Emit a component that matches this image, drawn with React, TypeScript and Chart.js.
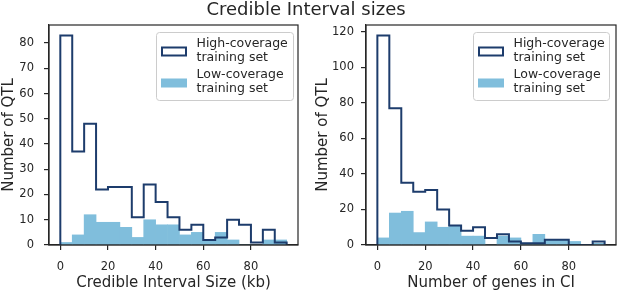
import React, { useEffect, useRef } from "react";
import { Chart, registerables } from "chart.js";

Chart.register(...registerables);

// ---- data ----
const binEdges = [0, 5, 10, 15, 20, 25, 30, 35, 40, 45, 50, 55, 60, 65, 70, 75, 80, 85, 90, 95];
const sizeHighCoverage = [83, 37, 48, 22, 23, 23, 11, 24, 17, 11, 6, 8, 2, 3, 10, 8, 1, 6, 1];
const sizeLowCoverage = [1, 4, 12, 9, 9, 7, 3, 10, 8, 8, 4, 5, 2, 5, 2, 0, 0, 2, 2];
const genesHighCoverage = [118, 77, 35, 30, 31, 20, 11, 8, 10, 4, 6, 2, 1, 1, 3, 3, 0, 0, 2];
const genesLowCoverage = [4, 18, 19, 7, 13, 10, 11, 5, 5, 0, 5, 4, 1, 6, 3, 3, 2, 0, 1];
const xTicks = [0, 20, 40, 60, 80];
const sizeYTicks = [0, 10, 20, 30, 40, 50, 60, 70, 80];
const genesYTicks = [0, 20, 40, 60, 80, 100, 120];
const highLabel = ["High-coverage", "training set"];
const lowLabel = ["Low-coverage", "training set"];
const figureTitle = "Credible Interval sizes";
const sizeXTitle = "Credible Interval Size (kb)";
const genesXTitle = "Number of genes in CI";
const yTitle = "Number of QTL";

// ---- styles ----
const FONT = "'DejaVu Sans', sans-serif";
const TEXT = "#262626";
const NAVY = "#1d3c6c";
const LIGHT = "#80bedc";

function stepPoints(counts: number[]) {
  const pts = [{ x: binEdges[0], y: 0 }];
  counts.forEach((c, i) => {
    pts.push({ x: binEdges[i], y: c });
    pts.push({ x: binEdges[i + 1], y: c });
  });
  pts.push({ x: binEdges[counts.length], y: 0 });
  return pts;
}

function barPoints(counts: number[]) {
  return counts.map((c, i) => ({ x: (binEdges[i] + binEdges[i + 1]) / 2, y: c }));
}

const frameLegendPlugin = {
  id: "frameLegend",
  afterDraw(chart: any, _args: any, opts: any) {
    const { ctx, chartArea } = chart;
    const { left, top, right, bottom } = chartArea;
    ctx.save();
    ctx.strokeStyle = TEXT;
    ctx.lineWidth = 1.2;
    ctx.strokeRect(left, top, right - left, bottom - top);

    const w = opts.boxWidth;
    const h = 68;
    const bx = Math.round(right - opts.inset - w) + 0.5;
    const by = Math.round(top + 7) + 0.5;
    ctx.beginPath();
    ctx.roundRect(bx, by, w, h, 3);
    ctx.fillStyle = "rgba(255,255,255,0.8)";
    ctx.fill();
    ctx.strokeStyle = "#cccccc";
    ctx.lineWidth = 1;
    ctx.stroke();

    ctx.strokeStyle = NAVY;
    ctx.lineWidth = 2;
    ctx.strokeRect(bx + 5.5, by + 15, 24, 8);
    ctx.fillStyle = LIGHT;
    ctx.fillRect(bx + 4.5, by + 46, 26, 9);

    ctx.fillStyle = TEXT;
    ctx.font = `12.5px ${FONT}`;
    ctx.textBaseline = "middle";
    ctx.textAlign = "left";
    const tx = bx + 40;
    ctx.fillText(highLabel[0], tx, by + 11);
    ctx.fillText(highLabel[1], tx, by + 25);
    ctx.fillText(lowLabel[0], tx, by + 42);
    ctx.fillText(lowLabel[1], tx, by + 56);
    ctx.restore();
  },
};

type HistProps = {
  high: number[];
  low: number[];
  yTicks: number[];
  xTitle: string;
  left: number;
  width: number;
  padRight: number;
  yWidth: number;
  yTitlePad: number;
  yTickPad: number;
  inset: number;
  boxWidth: number;
};

function Histogram(p: HistProps) {
  const ref = useRef<HTMLCanvasElement | null>(null);
  useEffect(() => {
    if (!ref.current) return;
    const yMax = Math.max(...p.high) * 1.05;
    const chart = new Chart(ref.current, {
      type: "bar",
      data: {
        datasets: [
          {
            type: "line",
            label: highLabel.join(" "),
            data: stepPoints(p.high),
            borderColor: NAVY,
            borderWidth: 2,
            borderJoinStyle: "miter",
            pointRadius: 0,
            fill: false,
            tension: 0,
            order: 0,
          } as any,
          {
            type: "bar",
            label: lowLabel.join(" "),
            data: barPoints(p.low),
            backgroundColor: LIGHT,
            borderWidth: 0,
            barPercentage: 1,
            categoryPercentage: 1,
            grouped: false,
            order: 1,
          } as any,
        ],
      },
      options: {
        animation: false,
        responsive: false,
        layout: { padding: { left: 0, top: 25, right: p.padRight, bottom: 0 } },
        plugins: {
          legend: { display: false },
          tooltip: { enabled: false },
          frameLegend: { inset: p.inset, boxWidth: p.boxWidth },
        } as any,
        scales: {
          x: {
            type: "linear",
            min: -4.75,
            max: 99.75,
            offset: false,
            afterBuildTicks: (s: any) => {
              s.ticks = xTicks.map((v) => ({ value: v }));
            },
            afterFit: (s: any) => {
              s.height = 47;
            },
            grid: {
              display: true,
              drawOnChartArea: false,
              drawTicks: true,
              tickLength: 5,
              color: TEXT,
              lineWidth: 1.2,
              offset: false,
            },
            border: { display: true, color: TEXT, width: 1.2 },
            ticks: {
              font: { family: FONT, size: 11.5 },
              color: TEXT,
              padding: 10.5,
              maxRotation: 0,
              autoSkip: false,
            },
            title: {
              display: true,
              text: p.xTitle,
              font: { family: FONT, size: 15 },
              color: TEXT,
              padding: { top: 0, bottom: -0.5 },
            },
          },
          y: {
            type: "linear",
            min: 0,
            max: yMax,
            afterBuildTicks: (s: any) => {
              s.ticks = p.yTicks.map((v) => ({ value: v }));
            },
            afterFit: (s: any) => {
              s.width = p.yWidth;
            },
            grid: {
              display: true,
              drawOnChartArea: false,
              drawTicks: true,
              tickLength: 5,
              color: TEXT,
              lineWidth: 1.2,
            },
            border: { display: true, color: TEXT, width: 1.2 },
            ticks: {
              font: { family: FONT, size: 11.5 },
              color: TEXT,
              padding: p.yTickPad,
              autoSkip: false,
            },
            title: {
              display: true,
              text: yTitle,
              font: { family: FONT, size: 15 },
              color: TEXT,
              padding: { top: p.yTitlePad, bottom: 0 },
            },
          },
        } as any,
      },
      plugins: [frameLegendPlugin as any],
    });
    return () => chart.destroy();
  }, []);
  return (
    <canvas
      ref={ref}
      width={p.width}
      height={292}
      style={{ position: "absolute", left: p.left, top: 0, width: p.width, height: 292 }}
    />
  );
}

export default function App() {
  return (
    <div
      style={{
        position: "absolute",
        left: 0,
        top: 0,
        width: 617,
        height: 292,
        background: "#ffffff",
        overflow: "hidden",
      }}
    >
      <Histogram
        high={sizeHighCoverage}
        low={sizeLowCoverage}
        yTicks={sizeYTicks}
        xTitle={sizeXTitle}
        left={0}
        width={308}
        padRight={10}
        yWidth={49}
        yTitlePad={0}
        yTickPad={10}
        inset={5}
        boxWidth={137}
      />
      <Histogram
        high={genesHighCoverage}
        low={genesLowCoverage}
        yTicks={genesYTicks}
        xTitle={genesXTitle}
        left={308}
        width={309}
        padRight={1}
        yWidth={58}
        yTitlePad={6.5}
        yTickPad={7}
        inset={7}
        boxWidth={136}
      />
      <div
        style={{
          position: "absolute",
          left: 0,
          top: 0,
          width: 612,
          textAlign: "center",
          fontFamily: FONT,
          fontSize: 18,
          lineHeight: "18px",
          color: TEXT,
        }}
      >
        {figureTitle}
      </div>
    </div>
  );
}
